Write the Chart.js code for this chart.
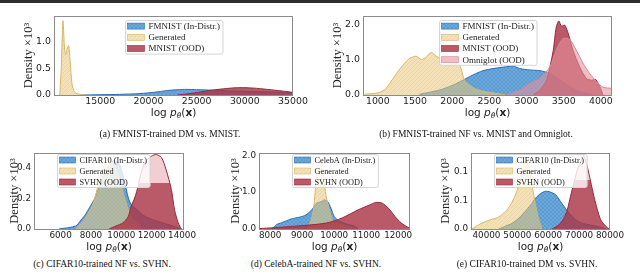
<!DOCTYPE html>
<html>
<head>
<meta charset="utf-8">
<script src="https://cdn.jsdelivr.net/npm/chart.js@4.4.1/dist/chart.umd.min.js"></script>
<style>
  body { margin: 0; width: 640px; height: 276px; background: #fff; position: relative; overflow: hidden; }
  .topbar { position: absolute; left: 0; top: 0; width: 640px; height: 3px; background: #2e2e2e; }
  canvas { position: absolute; }
  .cap { position: absolute; font-family: 'Liberation Serif', serif; font-size: 9.5px; line-height: 10px; color: #111; white-space: nowrap; transform: translateX(-50%); }
</style>
</head>
<body>
<div class="topbar"></div>
<canvas id="chA" width="310" height="122" style="left:0;top:0"></canvas>
<canvas id="chB" width="310" height="122" style="left:320px;top:0"></canvas>
<canvas id="chC" width="200" height="126" style="left:0;top:130px"></canvas>
<canvas id="chD" width="214" height="126" style="left:212px;top:130px"></canvas>
<canvas id="chE" width="215" height="126" style="left:425px;top:130px"></canvas>
<div class="cap" style="left:170px;top:129px">(a) FMNIST-trained DM vs. MNIST.</div>
<div class="cap" style="left:476px;top:129px">(b) FMNIST-trained NF vs. MNIST and Omniglot.</div>
<div class="cap" style="left:102px;top:259px">(c) CIFAR10-trained NF vs. SVHN.</div>
<div class="cap" style="left:316px;top:259px">(d) CelebA-trained NF vs. SVHN.</div>
<div class="cap" style="left:527px;top:259px">(e) CIFAR10-trained DM vs. SVHN.</div>
<script>
// (a) FMNIST-trained DM vs. MNIST
const aXTicks = [15000, 20000, 25000, 30000, 35000];
const aYTicks = [0, 0.5, 1.0];
const aYLabels = ['0.0', '0.5', '1.0'];
const aFmnistX = [13000, 15000, 17000, 19000, 20000, 21000, 22000, 23000, 24000, 25000, 26000, 27000, 28000, 29000, 30000, 31000, 32000, 33000, 34000, 35000];
const aFmnistY = [0, 0.005, 0.012, 0.025, 0.04, 0.06, 0.085, 0.1, 0.105, 0.1, 0.095, 0.088, 0.08, 0.075, 0.07, 0.065, 0.06, 0.055, 0.05, 0.045];
const aGenX = [10800, 10950, 11130, 11300, 11420, 11580, 11715, 11880, 12060, 12250, 12500, 13000, 13300];
const aGenY = [0, 0.5, 1.39, 0.85, 0.75, 0.88, 0.93, 0.62, 0.22, 0.08, 0.03, 0.01, 0];
const aMnistX = [23000, 24000, 25000, 26000, 27000, 28000, 29000, 30000, 31000, 32000, 33000, 34000, 35000];
const aMnistY = [0, 0.02, 0.045, 0.075, 0.1, 0.12, 0.135, 0.137, 0.128, 0.112, 0.092, 0.072, 0.05];

// (b) FMNIST-trained NF vs. MNIST and Omniglot
const bXTicks = [1000, 1500, 2000, 2500, 3000, 3500, 4000];
const bYTicks = [0, 1.0, 2.0];
const bYLabels = ['0.0', '1.0', '2.0'];
const bFmnistX = [1560, 1830, 2010, 2145, 2280, 2415, 2550, 2730, 2820, 2910, 3045, 3180, 3315, 3450, 3580, 3715, 3850, 3900];
const bFmnistY = [0.02, 0.14, 0.28, 0.42, 0.57, 0.69, 0.75, 0.8, 0.82, 0.75, 0.71, 0.69, 0.61, 0.42, 0.24, 0.09, 0.02, 0];
const bGenX = [820, 1020, 1110, 1250, 1360, 1430, 1515, 1585, 1650, 1720, 1785, 1900, 2010, 2100, 2165, 2235, 2325, 2460, 2640, 2720];
const bGenY = [0.02, 0.07, 0.19, 0.61, 0.9, 1.04, 1.1, 1.01, 1.07, 1.21, 1.1, 0.99, 0.96, 0.85, 0.42, 0.28, 0.16, 0.09, 0.03, 0];
const bMnistX = [3090, 3180, 3270, 3315, 3360, 3400, 3435, 3470, 3515, 3560, 3625, 3715, 3805, 3875, 3930, 3985, 4030];
const bMnistY = [0, 0.14, 0.42, 0.8, 1.27, 1.93, 2.1, 1.95, 1.98, 1.75, 1.27, 0.8, 0.47, 0.42, 0.44, 0.24, 0];
const bOmniX = [2730, 2910, 3045, 3180, 3315, 3400, 3490, 3580, 3670, 3760, 3850, 3940, 4030, 4150];
const bOmniY = [0, 0.14, 0.33, 0.47, 0.8, 1.27, 1.6, 1.58, 1.27, 0.9, 0.61, 0.38, 0.22, 0.19];

// (c) CIFAR10-trained NF vs. SVHN
const cXTicks = [6000, 8000, 10000, 12000, 14000];
const cYTicks = [0, 0.2, 0.4];
const cYLabels = ['0.0', '0.2', '0.4'];
const cCifarX = [5900, 7000, 7350, 7600, 7900, 8250, 8550, 8900, 9250, 9550, 9900, 10200, 10450, 10650, 11000, 11450, 12100, 12750, 13400, 13950];
const cCifarY = [0, 0.02, 0.06, 0.09, 0.14, 0.2, 0.28, 0.37, 0.43, 0.45, 0.42, 0.32, 0.21, 0.16, 0.13, 0.09, 0.06, 0.04, 0.02, 0];
const cGenX = [7000, 7450, 7800, 8150, 8350, 8550, 8800, 9000, 9200, 9550, 9900, 10200, 10450, 10650, 11000, 11400];
const cGenY = [0, 0.05, 0.1, 0.17, 0.24, 0.32, 0.4, 0.44, 0.47, 0.41, 0.32, 0.21, 0.13, 0.08, 0.04, 0];
const cSvhnX = [9200, 9650, 10100, 10450, 10650, 10900, 11100, 11300, 11550, 11750, 12000, 12300, 12650, 12950, 13300, 13500, 13750, 13950];
const cSvhnY = [0, 0.02, 0.04, 0.08, 0.15, 0.21, 0.28, 0.37, 0.44, 0.46, 0.48, 0.49, 0.47, 0.39, 0.26, 0.13, 0.04, 0];

// (d) CelebA-trained NF vs. SVHN
const dXTicks = [8000, 9000, 10000, 11000, 12000];
const dYTicks = [0, 1.0, 2.0];
const dYLabels = ['0.0', '1.0', '2.0'];
const dCelebX = [8050, 8200, 8350, 8500, 8650, 8800, 9000, 9150, 9300, 9450, 9600, 9700, 9800, 9900, 10000, 10100, 10250, 10450, 10650, 10750];
const dCelebY = [0, 0.12, 0.17, 0.22, 0.27, 0.3, 0.34, 0.4, 0.52, 0.7, 0.74, 0.79, 0.74, 0.56, 0.34, 0.25, 0.18, 0.12, 0.07, 0];
const dGenX = [9150, 9250, 9350, 9430, 9500, 9560, 9650, 9750, 9850, 9950, 10050, 10250, 10450, 10700];
const dGenY = [0, 0.16, 0.52, 1.24, 1.78, 1.92, 1.5, 0.88, 0.52, 0.25, 0.16, 0.12, 0.07, 0];
const dSvhnX = [7650, 8700, 9750, 10250, 10750, 11100, 11300, 11500, 11700, 11900, 12100, 12350];
const dSvhnY = [0.01, 0.07, 0.16, 0.3, 0.52, 0.65, 0.72, 0.7, 0.56, 0.34, 0.16, 0.02];

// (e) CIFAR10-trained DM vs. SVHN
const eXTicks = [40000, 50000, 60000, 70000, 80000];
const eYTicks = [0, 0.05, 0.1];
const eYLabels = ['0.0', '0.1', '0.1'];
const eCifarX = [44000, 46200, 48300, 50500, 52600, 54300, 55900, 57500, 59100, 60500, 62400, 64000, 65600, 67200, 68900, 71000, 73200, 75400, 78600];
const eCifarY = [0, 0.005, 0.01, 0.019, 0.031, 0.042, 0.054, 0.062, 0.066, 0.065, 0.06, 0.048, 0.036, 0.025, 0.016, 0.01, 0.0075, 0.005, 0];
const eGenX = [35300, 37500, 39700, 41800, 44000, 46200, 47800, 49400, 51000, 52000, 52800, 53800, 54800, 55800, 56800, 58000];
const eGenY = [0, 0.0075, 0.013, 0.017, 0.021, 0.031, 0.042, 0.06, 0.085, 0.11, 0.125, 0.105, 0.075, 0.045, 0.02, 0];
const eSvhnX = [61300, 63500, 65100, 66200, 67200, 68300, 69400, 70500, 71500, 72600, 73700, 74800, 75900, 77000, 78600, 79700];
const eSvhnY = [0, 0.0075, 0.019, 0.034, 0.057, 0.08, 0.103, 0.117, 0.128, 0.11, 0.084, 0.057, 0.034, 0.016, 0.005, 0];

const serif = 'Liberation Serif';

// small, faint hatch tiles so the fills read almost solid
function hatch(base, line, kind) {
    const c = document.createElement('canvas');
    c.width = 4; c.height = 4;
    const g = c.getContext('2d');
    g.fillStyle = base;
    g.fillRect(0, 0, 4, 4);
    g.strokeStyle = line;
    g.lineWidth = 0.6;
    g.beginPath();
    if (kind === '/' || kind === 'x') {
        g.moveTo(-1, 5); g.lineTo(5, -1);
    }
    if (kind === 'x') {
        g.moveTo(-1, -1); g.lineTo(5, 5);
    }
    if (kind === '|') {
        g.moveTo(1, 0); g.lineTo(1, 4);
        g.moveTo(3, 0); g.lineTo(3, 4);
    }
    g.stroke();
    return g.createPattern(c, 'repeat');
}

const blueFill = hatch('rgba(70,148,210,0.8)', 'rgba(45,115,180,0.45)', 'x');
const tanFill = hatch('rgba(234,200,128,0.55)', 'rgba(210,170,90,0.35)', '/');
const redFill = hatch('rgba(178,58,74,0.8)', 'rgba(140,35,50,0.4)', '|');
const pinkFill = hatch('rgba(232,150,162,0.55)', 'rgba(215,125,140,0.35)', '|');

// SVHN fill that turns pale above a given density (as in panels c and e)
function splitFill(cut) {
    return function(context) {
        const chart = context.chart;
        const y = chart.scales && chart.scales.y;
        if (!y || !chart.chartArea) return redFill;
        const py = Math.round(y.getPixelForValue(cut));
        const c = document.createElement('canvas');
        c.width = 4; c.height = chart.height;
        const g = c.getContext('2d');
        g.fillStyle = 'rgba(240,196,202,0.85)';
        g.fillRect(0, 0, 4, py);
        g.fillStyle = 'rgba(178,58,74,0.8)';
        g.fillRect(0, py, 4, chart.height - py);
        g.strokeStyle = 'rgba(140,35,50,0.4)';
        g.lineWidth = 0.6;
        g.beginPath();
        g.moveTo(1, py); g.lineTo(1, chart.height);
        g.moveTo(3, py); g.lineTo(3, chart.height);
        g.stroke();
        return chart.ctx.createPattern(c, 'repeat-x');
    };
}

function series(label, xs, ys, fill, edge, swatch) {
    return {
        label,
        data: xs.map((x, i) => ({ x, y: ys[i] })),
        backgroundColor: fill,
        borderColor: edge,
        swatch: swatch || fill,
        fill: 'origin'
    };
}

const frame = {
    id: 'frame',
    afterDatasetsDraw(chart) {
        const a = chart.chartArea;
        const ctx = chart.ctx;
        ctx.save();
        ctx.strokeStyle = '#8c8c8c';
        ctx.lineWidth = 1;
        ctx.strokeRect(Math.round(a.left) + 0.5, Math.round(a.top) + 0.5,
            Math.round(a.right - a.left) - 1, Math.round(a.bottom - a.top));
        ctx.restore();
    }
};

const insideLegend = {
    id: 'insideLegend',
    afterDraw(chart, args, o) {
        const ctx = chart.ctx;
        const a = chart.chartArea;
        const ds = chart.data.datasets;
        ctx.save();
        ctx.font = o.size + 'px "' + serif + '"';
        const tw = Math.max(...ds.map(d => ctx.measureText(d.label).width));
        const sw = o.swatch;
        const w = 2 + sw + 4 + tw + 3;
        const h = ds.length * o.row;
        const x0 = Math.round((a.left + a.right) / 2 - w / 2 + (o.shift || 0)) + 0.5;
        const y0 = Math.round(a.top + o.top) + 0.5;
        ctx.beginPath();
        ctx.roundRect(x0, y0, w, h, 2);
        ctx.fillStyle = 'rgba(255,255,255,0.8)';
        ctx.fill();
        ctx.strokeStyle = '#d4d4d4';
        ctx.lineWidth = 1;
        ctx.stroke();
        ds.forEach((d, i) => {
            const cy = y0 + o.row * (i + 0.5);
            ctx.fillStyle = '#fff';
            ctx.fillRect(x0 + 2, cy - 3, sw, 6);
            ctx.fillStyle = d.swatch;
            ctx.fillRect(x0 + 2, cy - 3, sw, 6);
            ctx.strokeStyle = d.borderColor;
            ctx.lineWidth = 0.6;
            ctx.strokeRect(x0 + 2, cy - 3, sw, 6);
            ctx.fillStyle = '#222';
            ctx.textBaseline = 'middle';
            ctx.fillText(d.label, x0 + 2 + sw + 4, cy + 0.5);
        });
        ctx.restore();
    }
};

// x axis title: log p_theta(x)
const mathTitle = {
    id: 'mathTitle',
    afterDraw(chart, args, o) {
        const ctx = chart.ctx;
        const a = chart.chartArea;
        const parts = [
            { t: 'log ', f: '10.5px "DejaVu Sans"', dy: 0 },
            { t: 'p', f: 'italic 10.5px "DejaVu Sans"', dy: 0 },
            { t: '\u03B8', f: 'italic 7.4px "DejaVu Sans"', dy: 2.6 },
            { t: '(', f: '10.5px "DejaVu Sans"', dy: 0 },
            { t: 'x', f: 'bold 10.5px "DejaVu Sans"', dy: 0 },
            { t: ')', f: '10.5px "DejaVu Sans"', dy: 0 }
        ];
        ctx.save();
        let total = 0;
        parts.forEach(p => { ctx.font = p.f; p.w = ctx.measureText(p.t).width; total += p.w; });
        let x = (a.left + a.right) / 2 - total / 2;
        const y = a.bottom + o.offset;
        ctx.fillStyle = '#222';
        ctx.textBaseline = 'middle';
        parts.forEach(p => { ctx.font = p.f; ctx.fillText(p.t, x, y + p.dy); x += p.w; });
        ctx.restore();
    }
};

function makeChart(id, cfg) {
    const tickFont = { family: 'DejaVu Sans', size: cfg.tick };
    return new Chart(document.getElementById(id), {
        type: 'line',
        data: { datasets: cfg.datasets.map((d, i) => Object.assign(d, { order: cfg.datasets.length - i })) },
        options: {
            responsive: false,
            animation: false,
            layout: { padding: cfg.pad },
            elements: {
                point: { radius: 0 },
                line: { tension: 0.25, borderWidth: 1 }
            },
            scales: {
                x: {
                    type: 'linear',
                    min: cfg.xMin,
                    max: cfg.xMax,
                    grid: { display: false, drawTicks: false },
                    border: { display: false },
                    ticks: {
                        padding: 1,
                        autoSkip: false,
                        maxRotation: 0,
                        font: tickFont,
                        color: '#222',
                        callback: v => String(v)
                    },
                    afterBuildTicks: s => { s.ticks = cfg.xTicks.map(v => ({ value: v })); },
                    afterFit: s => { s.height = cfg.xh; }
                },
                y: {
                    min: 0,
                    max: cfg.yMax,
                    grid: { display: false, drawTicks: false },
                    border: { display: false },
                    ticks: {
                        padding: 3,
                        font: tickFont,
                        color: '#222',
                        callback: (v, i) => cfg.yLabels[i]
                    },
                    afterBuildTicks: s => { s.ticks = cfg.yTicks.map(v => ({ value: v })); },
                    afterFit: s => { s.width = cfg.yw; },
                    title: {
                        display: true,
                        text: 'Density \u00D710\u00B3',
                        font: { family: serif, size: 12.5 },
                        color: '#222',
                        padding: 0
                    }
                }
            },
            plugins: {
                legend: { display: false },
                tooltip: { enabled: false },
                insideLegend: cfg.legend,
                mathTitle: { offset: 18 }
            }
        },
        plugins: [frame, insideLegend, mathTitle]
    });
}

makeChart('chA', {
    xMin: 10200, xMax: 35000, yMax: 1.48, tick: 9.4,
    xTicks: aXTicks, yTicks: aYTicks, yLabels: aYLabels,
    pad: { left: 21.5, top: 16, right: 17, bottom: 0 }, yw: 32.5, xh: 27,
    legend: { top: 4, row: 11.2, size: 9, swatch: 17 },
    datasets: [
        series('FMNIST (In-Distr.)', aFmnistX, aFmnistY, blueFill, '#2a6db0'),
        series('Generated', aGenX, aGenY, tanFill, '#d9b565'),
        series('MNIST (OOD)', aMnistX, aMnistY, redFill, '#962838')
    ]
});

makeChart('chB', {
    xMin: 800, xMax: 4150, yMax: 2.24, tick: 9.4,
    xTicks: bXTicks, yTicks: bYTicks, yLabels: bYLabels,
    pad: { left: 10.5, top: 16, right: 18, bottom: 0 }, yw: 32.5, xh: 27,
    legend: { top: 4, row: 11.2, size: 9, swatch: 17 },
    datasets: [
        series('FMNIST (In-Distr.)', bFmnistX, bFmnistY, blueFill, '#2a6db0'),
        series('Generated', bGenX, bGenY, tanFill, '#d9b565'),
        series('MNIST (OOD)', bMnistX, bMnistY, redFill, '#962838'),
        series('Omniglot (OOD)', bOmniX, bOmniY, pinkFill, '#d98593')
    ]
});

makeChart('chC', {
    xMin: 4250, xMax: 14130, yMax: 0.5, tick: 8.8,
    xTicks: cXTicks, yTicks: cYTicks, yLabels: cYLabels,
    pad: { left: 7.5, top: 23, right: 16, bottom: 0 }, yw: 26.5, xh: 27,
    legend: { top: 1, row: 11, size: 8.3, swatch: 16, shift: -6 },
    datasets: [
        series('CIFAR10 (In-Distr.)', cCifarX, cCifarY, blueFill, '#2a6db0'),
        series('Generated', cGenX, cGenY, tanFill, '#d9b565'),
        series('SVHN (OOD)', cSvhnX, cSvhnY, splitFill(0.3), '#962838', redFill)
    ]
});

makeChart('chD', {
    xMin: 7650, xMax: 12370, yMax: 2.06, tick: 8.8,
    xTicks: dXTicks, yTicks: dYTicks, yLabels: dYLabels,
    pad: { left: 16, top: 23, right: 16, bottom: 0 }, yw: 31, xh: 27,
    legend: { top: 1, row: 11, size: 8.3, swatch: 16 },
    datasets: [
        series('CelebA (In-Distr.)', dCelebX, dCelebY, blueFill, '#2a6db0'),
        series('Generated', dGenX, dGenY, tanFill, '#d9b565'),
        series('SVHN (OOD)', dSvhnX, dSvhnY, redFill, '#962838')
    ]
});

makeChart('chE', {
    xMin: 35000, xMax: 80000, yMax: 0.133, tick: 8.8,
    xTicks: eXTicks, yTicks: eYTicks, yLabels: eYLabels,
    pad: { left: 13.5, top: 23, right: 30, bottom: 0 }, yw: 32.5, xh: 27,
    legend: { top: 1, row: 11, size: 8.3, swatch: 16 },
    datasets: [
        series('CIFAR10 (In-Distr.)', eCifarX, eCifarY, blueFill, '#2a6db0'),
        series('Generated', eGenX, eGenY, tanFill, '#d9b565'),
        series('SVHN (OOD)', eSvhnX, eSvhnY, splitFill(0.085), '#962838', redFill)
    ]
});
</script>
</body>
</html>
